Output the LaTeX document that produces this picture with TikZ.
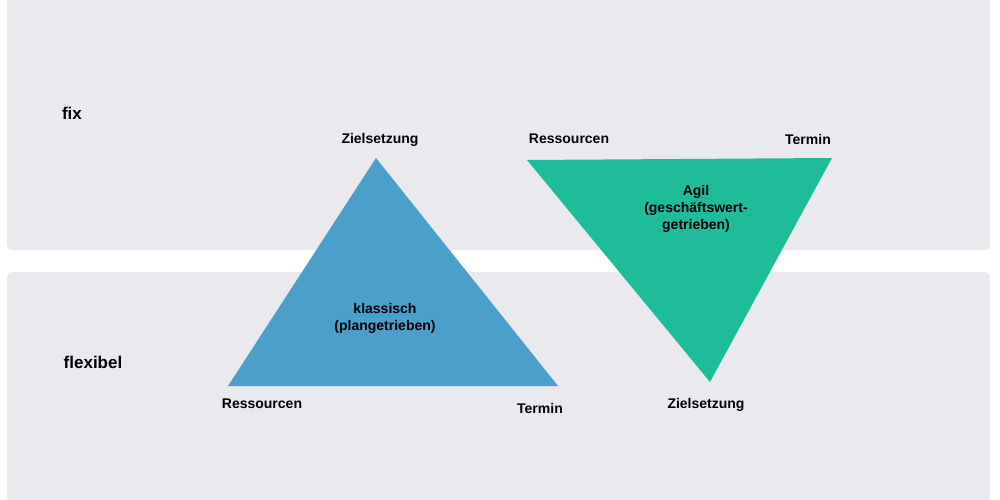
\documentclass[tikz,border=0pt]{standalone}
\usepackage{fontspec}
\setmainfont{Liberation Sans}
\definecolor{panel}{HTML}{EAE9EE}
\definecolor{tblue}{HTML}{4A9FCB}
\definecolor{tgreen}{HTML}{1EBC98}
\begin{document}
\begin{tikzpicture}[x=1pt,y=-1pt,
  lbl/.style={font=\bfseries\fontsize{14}{17}\selectfont,align=center,inner sep=0pt},
  big/.style={font=\bfseries\fontsize{17}{20}\selectfont,inner sep=0pt}]
\useasboundingbox (0,0) rectangle (1000,500);
\fill[white] (0,0) rectangle (1000,500);
\fill[panel,rounded corners=5pt] (7,-10) rectangle (990,250);
\fill[panel,rounded corners=5pt] (7,272) rectangle (990,510);
\fill[tblue] (376,158) -- (228,386) -- (558,386) -- cycle;
\fill[tgreen] (527,160) -- (832,158) -- (710,382) -- cycle;
\node[big] (fix) at (72,113) {fix};
\node[big] (flex) at (93,362) {flexibel};
\node[lbl] (z1) at (380,140) {Zielsetzung};
\node[lbl] (r1) at (262,404) {Ressourcen};
\node[lbl] (t1) at (540,408) {Termin};
\node[lbl] (k) at (385,318) {klassisch\\(plangetrieben)};
\node[lbl] (r2) at (569,139) {Ressourcen};
\node[lbl] (t2) at (808,139) {Termin};
\node[lbl] (z2) at (706,405) {Zielsetzung};
\node[lbl] (a) at (696,209) {Agil\\(geschäftswert-\\getrieben)};
\end{tikzpicture}
\end{document}
